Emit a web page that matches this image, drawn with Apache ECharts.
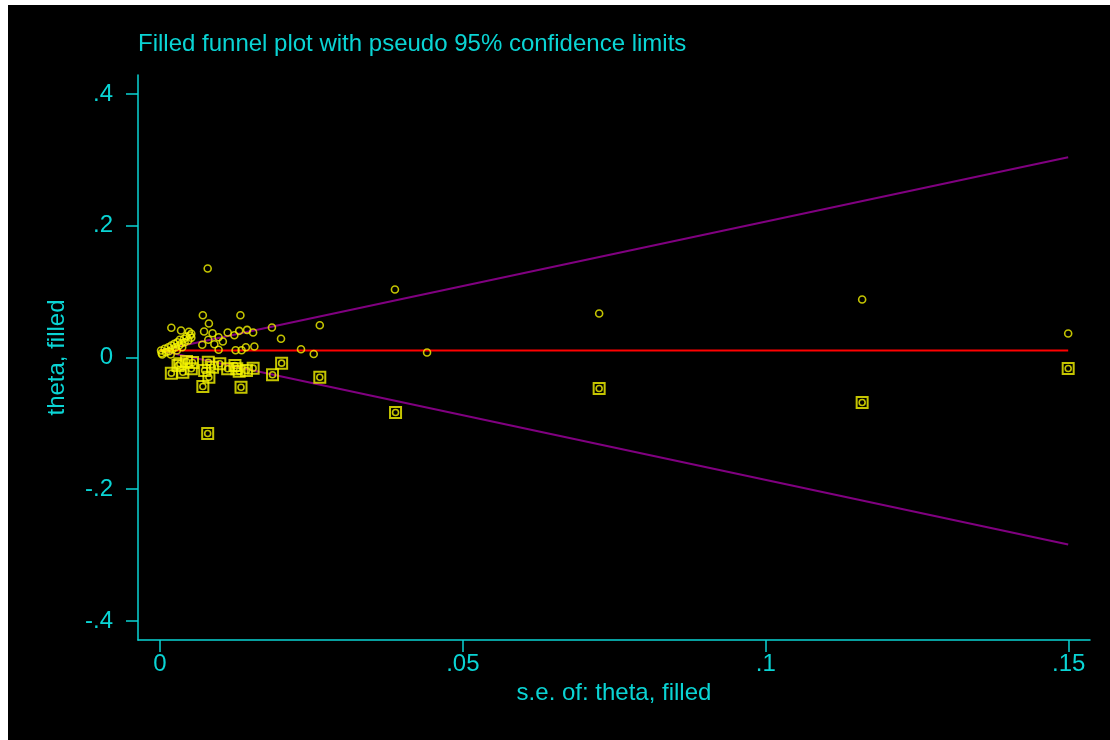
<!DOCTYPE html>
<html>
<head>
<meta charset="utf-8">
<script src="https://cdn.jsdelivr.net/npm/echarts@6/dist/echarts.min.js"></script>
<style>
  html, body { margin: 0; padding: 0; background: #fff; }
  #chart { position: absolute; left: 8px; top: 5px; width: 1102px; height: 735px; background: #000; }
</style>
</head>
<body>
<div id="chart"></div>
<script>
// observed studies (hollow circles)
const obsSe = [
  0.1499, 0.1159, 0.0725, 0.0441, 0.0388, 0.0264, 0.0254, 0.0233, 0.0200, 0.0185,
  0.0156, 0.0154, 0.0144, 0.0142, 0.0135, 0.0133, 0.0131, 0.0125, 0.0123, 0.0112,
  0.0104, 0.0097, 0.0097, 0.0090, 0.0087, 0.0081, 0.0080, 0.0079, 0.0073, 0.0071,
  0.0070, 0.0052, 0.0048, 0.0035, 0.0019,
  0.0003, 0.0002, 0.0004, 0.0008, 0.0010, 0.0014, 0.0015, 0.0019, 0.0021, 0.0024,
  0.0026, 0.0029, 0.0032, 0.0033, 0.0036, 0.0040, 0.0041, 0.0044, 0.0047, 0.0050,
  0.0052, 0.0037, 0.0028, 0.0018
]
const obsTheta = [
  0.0364, 0.0880, 0.0668, 0.0076, 0.1032, 0.0490, 0.0053, 0.0126, 0.0284, 0.0455,
  0.0167, 0.0379, 0.0420, 0.0156, 0.0111, 0.0642, 0.0405, 0.0111, 0.0338, 0.0379,
  0.0243, 0.0308, 0.0117, 0.0202, 0.0369, 0.0516, 0.0269, 0.1351, 0.0395, 0.0642,
  0.0193, 0.0360, 0.0390, 0.0410, 0.0451,
  0.0065, 0.0106, 0.0046, 0.0132, 0.0080, 0.0156, 0.0096, 0.0182, 0.0126, 0.0208,
  0.0156, 0.0232, 0.0182, 0.0269, 0.0217, 0.0284, 0.0232, 0.0319, 0.0258, 0.0334,
  0.0299, 0.0156, 0.0106, 0.0046
]

// filled studies (squares)
const fillSe = [
  0.1499, 0.1159, 0.0725, 0.0389, 0.0264, 0.0201, 0.0186, 0.0154, 0.0143, 0.0134,
  0.0131, 0.0127, 0.0124, 0.0112, 0.0099, 0.0087, 0.0081, 0.0080, 0.0079, 0.0074,
  0.0071, 0.0052, 0.0044, 0.0038, 0.0033, 0.0030, 0.0019, 0.0054
]
const fillTheta = [
  -0.0167, -0.0683, -0.0470, -0.0835, -0.0299, -0.0086, -0.0263, -0.0162, -0.0197, -0.0451,
  -0.0208, -0.0171, -0.0121, -0.0171, -0.0096, -0.0147, -0.0299, -0.0071, -0.1153, -0.0197,
  -0.0440, -0.0171, -0.0061, -0.0223, -0.0096, -0.0121, -0.0238, -0.0076
]

// pseudo 95% limits and pooled estimate
const lineSe = [0, 0.1499]
const pooled = [0.0106, 0.0106]
const upper = [0.0106, 0.304]
const lower = [0.0106, -0.284]

const xTicks = [0, 0.05, 0.1, 0.15]
const yTicks = [-0.4, -0.2, 0, 0.2, 0.4]

const cyan = '#0ad4d4'
const yellow = '#f5f500'
const font = 'Liberation Sans, Arial, sans-serif'

const pairs = (xs, ys) => xs.map((x, i) => [x, ys[i]])
const stataLabel = v => v === 0 ? '0' : String(v).replace('0.', '.')

const chart = echarts.init(document.getElementById('chart'))

chart.setOption({
  animation: false,
  backgroundColor: '#000',
  title: {
    text: 'Filled funnel plot with pseudo 95% confidence limits',
    left: 130,
    top: 27,
    padding: 0,
    textStyle: { color: cyan, fontSize: 24, fontWeight: 'normal', fontFamily: font }
  },
  grid: { left: 130, top: 70, right: 20, bottom: 100 },
  xAxis: {
    type: 'value',
    min: -0.0036,
    max: 0.1535,
    name: 's.e. of: theta, filled',
    nameLocation: 'middle',
    nameGap: 34,
    nameTextStyle: { color: cyan, fontSize: 24, fontFamily: font },
    axisLine: { show: true, onZero: false, lineStyle: { color: cyan, width: 1.5 } },
    axisTick: { show: true, length: 12, customValues: xTicks, lineStyle: { color: cyan, width: 1.5 } },
    axisLabel: { customValues: xTicks, formatter: stataLabel, color: cyan, fontSize: 24, fontFamily: font, margin: 12 },
    splitLine: { show: false }
  },
  yAxis: {
    type: 'value',
    min: -0.429,
    max: 0.429,
    name: 'theta, filled',
    nameLocation: 'middle',
    nameGap: 69,
    nameTextStyle: { color: cyan, fontSize: 24, fontFamily: font },
    axisLine: { show: true, onZero: false, lineStyle: { color: cyan, width: 1.5 } },
    axisTick: { show: true, length: 12, customValues: yTicks, lineStyle: { color: cyan, width: 1.5 } },
    axisLabel: { customValues: yTicks, formatter: stataLabel, color: cyan, fontSize: 24, fontFamily: font, margin: 25 },
    splitLine: { show: false }
  },
  series: [
    {
      type: 'line', data: pairs(lineSe, upper), symbol: 'none',
      lineStyle: { color: '#800080', width: 2 }, z: 1
    },
    {
      type: 'line', data: pairs(lineSe, lower), symbol: 'none',
      lineStyle: { color: '#800080', width: 2 }, z: 1
    },
    {
      type: 'line', data: pairs(lineSe, pooled), symbol: 'none',
      lineStyle: { color: '#ff0000', width: 2 }, z: 1
    },
    {
      type: 'scatter', data: pairs(obsSe, obsTheta), symbol: 'circle', symbolSize: 7,
      itemStyle: { color: 'transparent', borderColor: yellow, borderWidth: 1.6 }, z: 3
    },
    {
      type: 'scatter', data: pairs(fillSe, fillTheta), symbol: 'circle', symbolSize: 6,
      itemStyle: { color: 'transparent', borderColor: yellow, borderWidth: 1.6 }, z: 3
    },
    {
      type: 'scatter', data: pairs(fillSe, fillTheta), symbol: 'rect', symbolSize: 11,
      itemStyle: { color: 'transparent', borderColor: yellow, borderWidth: 2 }, z: 3
    }
  ]
})
</script>
</body>
</html>
